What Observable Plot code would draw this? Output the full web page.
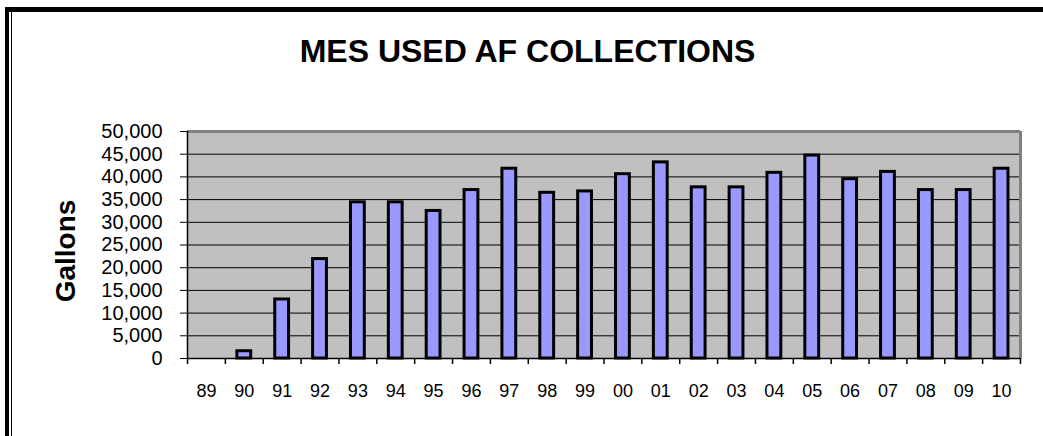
<!DOCTYPE html>
<html><head><meta charset="utf-8">
<script src="https://cdn.jsdelivr.net/npm/d3@7"></script>
<script src="https://cdn.jsdelivr.net/npm/@observablehq/plot@0.6"></script>
<style>
body{margin:0;background:#fff;}
#wrap{position:relative;width:1043px;height:436px;overflow:hidden;background:#fff;}
#wrap svg{position:absolute;left:0;top:0;}
.bt{position:absolute;left:5px;top:7px;width:1038px;height:5px;background:#000;}
.bl{position:absolute;left:5px;top:7px;width:4px;height:429px;background:#000;}
.bl2{position:absolute;left:11px;top:12px;width:1px;height:424px;background:#000;}
</style></head><body>
<div id="wrap"><div class="bt"></div><div class="bl"></div><div class="bl2"></div></div>
<script>
const title = "MES USED AF COLLECTIONS";
const yLabel = "Gallons";
const years = ["89","90","91","92","93","94","95","96","97","98","99","00","01","02","03","04","05","06","07","08","09","10"];
const gallons = [0,1600,13000,21900,34400,34400,32500,37100,41800,36500,36800,40600,43200,37700,37700,40900,44700,39500,41100,37100,37100,41800];
const yTicks = [0,5000,10000,15000,20000,25000,30000,35000,40000,45000,50000];

const W = 1043, H = 436, mL = 187, mR = 23, mT = 131, mB = 78;
const step = (W - mL - mR) / years.length;
const data = years.map((year, i) => ({year, value: gallons[i]}));

const chart = Plot.plot({
  width: W, height: H,
  marginLeft: mL, marginRight: mR, marginTop: mT, marginBottom: mB,
  style: {fontFamily: "'Liberation Sans', Arial, sans-serif", background: "transparent", color: "#000", overflow: "visible"},
  x: {domain: years, paddingInner: 0.635, paddingOuter: 0.3175, round: false, label: null},
  y: {domain: [0, 50000], label: null},
  marks: [
    Plot.frame({fill: "#c0c0c0", stroke: "none"}),
    Plot.gridY(yTicks, {stroke: "#000", strokeOpacity: 1, strokeWidth: 1}),
    Plot.ruleY([yTicks[yTicks.length - 1]], {stroke: "#808080", strokeWidth: 3}),
    Plot.ruleX([years[years.length - 1]], {dx: step / 2, stroke: "#808080", strokeWidth: 3}),
    Plot.barY(data, {filter: d => d.value > 0, x: "year", y: "value", fill: "#9999ff", stroke: "#000", strokeWidth: 3}),
    Plot.ruleY([0], {stroke: "#000", strokeWidth: 1.5}),
    Plot.ruleX([years[0]], {dx: -step / 2, stroke: "#000", strokeWidth: 1.5}),
    Plot.ruleX(years, {x: d => d, y1: 0, y2: 0, insetBottom: -6, dx: -step / 2, stroke: "#000", strokeWidth: 1.5}),
    Plot.ruleX([years[years.length - 1]], {x: d => d, y1: 0, y2: 0, insetBottom: -6, dx: step / 2, stroke: "#000", strokeWidth: 1.5}),
    Plot.axisY({ticks: yTicks, tickFormat: d3.format(","), tickSize: 7, tickPadding: 18, fontSize: 20, label: null, stroke: "#000"}),
    Plot.axisX({tickSize: 0, tickPadding: 26, fontSize: 18, label: null}),
    Plot.text([yLabel], {frameAnchor: "left", textAnchor: "middle", lineAnchor: "middle", rotate: -90, dx: -121, dy: 6, fontSize: 28, fontWeight: "bold"}),
    Plot.text([title], {frameAnchor: "top", lineAnchor: "middle", dx: 527 - (mL + (W - mL - mR) / 2), dy: -80, fontSize: 32, fontWeight: "bold"})
  ]
});
document.getElementById("wrap").appendChild(chart);
</script>
</body></html>
